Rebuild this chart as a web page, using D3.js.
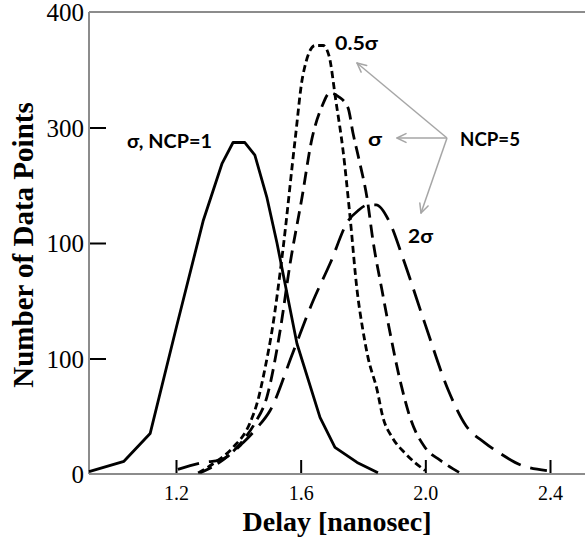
<!DOCTYPE html>
<html><head><meta charset="utf-8">
<script src="https://cdn.jsdelivr.net/npm/d3@7"></script>
<style>body{margin:0;background:#fff}svg{display:block}</style>
</head><body>
<svg id="chart" width="585" height="541"></svg>
<script>
// ---- data ----
const ncp1Delay  = [0.921,1.033,1.117,1.203,1.287,1.348,1.383,1.421,1.453,1.492,1.524,1.588,1.662,1.710,1.781,1.848];
const ncp1Count  = [2,11,35,129,219,269,287,287,276,239,200,113,49,23,10,1];

const half5Delay = [1.271,1.325,1.383,1.437,1.463,1.486,1.508,1.543,1.582,1.607,1.646,1.672,1.691,1.713,1.736,1.758,1.781,1.800,1.816,1.845,1.864,1.893,1.935,1.999];
const half5Count = [1,10,23,44,64,92,124,194,289,345,371,371,362,323,280,224,159,124,101,73,49,32,18,3];

const sig5Delay  = [1.277,1.364,1.415,1.453,1.492,1.534,1.566,1.604,1.636,1.668,1.694,1.720,1.752,1.768,1.790,1.813,1.832,1.861,1.887,1.919,1.951,1.999,2.047,2.111];
const sig5Count  = [1,15,29,44,67,124,182,239,290,318,330,327,317,295,269,239,202,159,122,81,49,23,12,1];

const two5Delay  = [1.206,1.287,1.341,1.415,1.460,1.502,1.575,1.640,1.694,1.752,1.784,1.816,1.842,1.887,1.928,1.999,2.073,2.130,2.191,2.239,2.304,2.390];
const two5Count  = [4,10,12,27,40,55,105,150,182,219,228,233,233,217,187,130,73,42,27,18,8,3];

const xTickValues = [1.2,1.6,2.0,2.4];
const xTickLabels = ["1.2","1.6","2.0","2.4"];
const yTickValues = [0,100,200,300,400];
const yTickLabels = ["0","100","100","300","400"];

// ---- layout ----
const svg = d3.select("#chart");
const x = d3.scaleLinear().domain([1.2,2.4]).range([176,550]);
const y = d3.scaleLinear().domain([0,400]).range([474,12]);
const xLeft = x.invert(89), xRight = x.invert(585);
const serif = "'Liberation Serif','Times New Roman',serif";
const sans = "Lato,'Open Sans',sans-serif";

// frame line on top (grey)
svg.append("line").attr("x1",x(xLeft)).attr("x2",x(xRight)).attr("y1",y(400)).attr("y2",y(400))
  .attr("stroke","#8c8c8c").attr("stroke-width",2);

// x axis
const gx = svg.append("g").attr("transform",`translate(0,${y(0)})`)
  .call(d3.axisBottom(x).tickValues(xTickValues).tickFormat((d,i)=>xTickLabels[i]).tickSize(-14).tickSizeOuter(0));
gx.select(".domain").remove();
gx.selectAll(".tick line").attr("stroke","#000").attr("stroke-width",2);
gx.selectAll(".tick text").attr("font-family",serif).attr("font-size",20).attr("fill","#000").attr("y",12).attr("dy","0.71em");
svg.append("line").attr("x1",x(xLeft)).attr("x2",x(xRight)).attr("y1",y(0)).attr("y2",y(0))
  .attr("stroke","#8c8c8c").attr("stroke-width",2);

// y axis
const gy = svg.append("g").attr("transform",`translate(${x(xLeft)},0)`)
  .call(d3.axisLeft(y).tickValues(yTickValues).tickFormat((d,i)=>yTickLabels[i]).tickSize(-17).tickSizeOuter(0));
gy.select(".domain").remove();
gy.selectAll(".tick line").attr("stroke","#000").attr("stroke-width",2)
  .attr("display",d=>(d===0||d===400)?"none":null);
gy.selectAll(".tick text").attr("font-family",serif).attr("font-size",25).attr("fill","#000").attr("x",-5).attr("dy","0.34em");
svg.append("line").attr("x1",x(xLeft)).attr("x2",x(xLeft)).attr("y1",y(400)).attr("y2",y(0))
  .attr("stroke","#8c8c8c").attr("stroke-width",2);

// axis titles
svg.append("text").attr("x",337).attr("y",531).attr("text-anchor","middle")
  .attr("font-family",serif).attr("font-weight","bold").attr("font-size",28).text("Delay [nanosec]");
svg.append("text").attr("transform","translate(33,245) rotate(-90)").attr("text-anchor","middle")
  .attr("font-family",serif).attr("font-weight","bold").attr("font-size",29).text("Number of Data Points");

// series
const series = [
  {dx:ncp1Delay, dy:ncp1Count, dash:null, curve:d3.curveLinear},
  {dx:half5Delay, dy:half5Count, dash:"7,4", curve:d3.curveMonotoneX},
  {dx:sig5Delay, dy:sig5Count, dash:"13,7", curve:d3.curveMonotoneX},
  {dx:two5Delay, dy:two5Count, dash:"22,10", curve:d3.curveMonotoneX}
];
series.forEach(s=>{
  const pts = s.dx.map((d,i)=>[d,s.dy[i]]);
  const line = d3.line().x(d=>x(d[0])).y(d=>y(d[1])).curve(s.curve);
  svg.append("path").attr("d",line(pts)).attr("fill","none").attr("stroke","#000")
    .attr("stroke-width",2.8).attr("stroke-dasharray",s.dash).attr("stroke-linejoin","round");
});

// annotations
const notes = [
  {t:"σ, NCP=1", x:127, y:148, w:85},
  {t:"0.5σ", x:335, y:50, w:43},
  {t:"σ", x:368, y:146, w:14},
  {t:"NCP=5", x:460, y:146, w:60},
  {t:"2σ", x:408, y:243, w:25}
];
notes.forEach(n=>{
  svg.append("text").attr("x",n.x).attr("y",n.y).attr("font-family",sans).attr("font-weight","bold")
    .attr("font-size",18).attr("textLength",n.w).attr("lengthAdjust","spacingAndGlyphs").text(n.t);
});

// grey arrows from NCP=5
const origin = [447,138];
const targets = [[357,63],[397,138],[421,213]];
targets.forEach(t=>{
  svg.append("line").attr("x1",origin[0]).attr("y1",origin[1]).attr("x2",t[0]).attr("y2",t[1])
    .attr("stroke","#a6a6a6").attr("stroke-width",1.5);
  const ang = Math.atan2(origin[1]-t[1], origin[0]-t[0]);
  const L = 10, spread = 0.45;
  [ang-spread, ang+spread].forEach(a=>{
    svg.append("line").attr("x1",t[0]).attr("y1",t[1])
      .attr("x2",t[0]+L*Math.cos(a)).attr("y2",t[1]+L*Math.sin(a))
      .attr("stroke","#a6a6a6").attr("stroke-width",1.5).attr("stroke-linecap","round");
  });
});
</script>
</body></html>
